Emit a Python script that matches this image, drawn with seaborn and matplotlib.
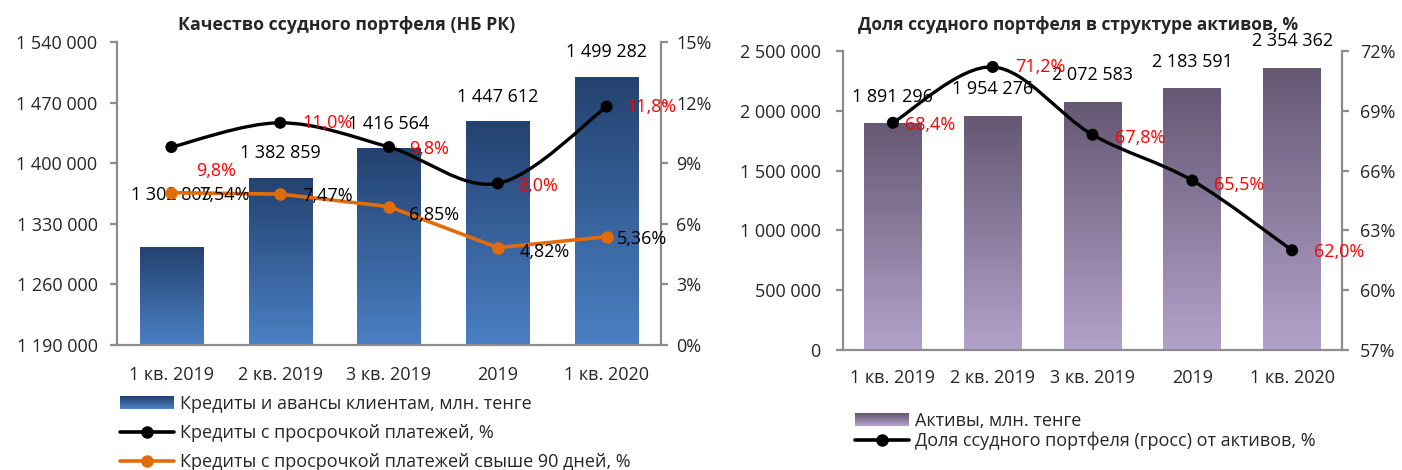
import numpy as np
import pandas as pd
import matplotlib
matplotlib.use('Agg')
import matplotlib.pyplot as plt
import seaborn as sns
from matplotlib.path import Path
from matplotlib.patches import PathPatch, Rectangle
from matplotlib.legend_handler import HandlerBase
from matplotlib.lines import Line2D
from matplotlib.colors import LinearSegmentedColormap

# ---------------- data ----------------
categories = ['1 кв. 2019', '2 кв. 2019', '3 кв. 2019', '2019', '1 кв. 2020']
loans = [1302805, 1382859, 1416564, 1447612, 1499282]
overdue_pct = [9.8, 11.0, 9.8, 8.0, 11.8]
overdue90_pct = [7.54, 7.47, 6.85, 4.82, 5.36]
assets = [1891296, 1954276, 2072583, 2183591, 2354362]
loan_share_pct = [68.4, 71.2, 67.8, 65.5, 62.0]

left_ticks = [1190000, 1260000, 1330000, 1400000, 1470000, 1540000]
left_pct_ticks = [0, 3, 6, 9, 12, 15]
right_ticks = [0, 500000, 1000000, 1500000, 2000000, 2500000]
right_pct_ticks = [57, 60, 63, 66, 69, 72]

title_left = 'Качество ссудного портфеля (НБ РК)'
title_right = 'Доля ссудного портфеля в структуре активов, %'
leg_left = ['Кредиты и авансы клиентам, млн. тенге',
            'Кредиты с просрочкой платежей, %',
            'Кредиты с просрочкой платежей свыше 90 дней, %']
leg_right = ['Активы, млн. тенге',
             'Доля ссудного портфеля (гросс) от активов, %']

# ---------------- style ----------------
sns.set_style('white')
plt.rcParams['font.family'] = ['Open Sans', 'DejaVu Sans']
FS = 13
SPINE = '#8c8c8c'
BLUE_TOP, BLUE_BOT = '#244270', '#4a80c4'
PURP_TOP, PURP_BOT = '#655873', '#b3a2cb'
ORANGE = '#e36c0a'
RED = '#ff0000'

def fmt_num(v):
    return f'{v:,}'.replace(',', ' ')

def fmt_pct(v, d):
    return f'{v:.{d}f}'.replace('.', ',') + '%'

def smooth_path(xs, ys, t=1/6):
    xs = np.asarray(xs, float); ys = np.asarray(ys, float)
    n = len(xs)
    verts = [(xs[0], ys[0])]
    codes = [Path.MOVETO]
    for i in range(n - 1):
        p0 = np.array([xs[max(i - 1, 0)], ys[max(i - 1, 0)]])
        p1 = np.array([xs[i], ys[i]])
        p2 = np.array([xs[i + 1], ys[i + 1]])
        p3 = np.array([xs[min(i + 2, n - 1)], ys[min(i + 2, n - 1)]])
        c1 = p1 + (p2 - p0) * t
        c2 = p2 - (p3 - p1) * t
        verts += [tuple(c1), tuple(c2), tuple(p2)]
        codes += [Path.CURVE4] * 3
    return Path(verts, codes)

def gradient_bars(ax, top, bottom):
    cmap = LinearSegmentedColormap.from_list('g', [bottom, top])
    grad = np.linspace(0, 1, 256).reshape(-1, 1)
    xl, yl = ax.get_xlim(), ax.get_ylim()
    for p in list(ax.patches):
        x0, w = p.get_x(), p.get_width()
        y0 = max(p.get_y(), yl[0])
        y1 = p.get_y() + p.get_height()
        ax.imshow(grad, cmap=cmap, origin='lower', extent=(x0, x0 + w, y0, y1),
                  aspect='auto', zorder=2, interpolation='bilinear')
        p.set_visible(False)
    ax.set_xlim(xl); ax.set_ylim(yl)

class GradientHandler(HandlerBase):
    def __init__(self, top, bottom, n=24):
        super().__init__()
        self.top, self.bottom, self.n = top, bottom, n
    def create_artists(self, legend, orig_handle, xdescent, ydescent, width, height, fontsize, trans):
        cmap = LinearSegmentedColormap.from_list('g', [self.bottom, self.top])
        arts = []
        h = height * 1.0
        y0 = -ydescent + (height - h) / 2
        for i in range(self.n):
            arts.append(Rectangle((-xdescent, y0 + h * i / self.n), width, h / self.n * 1.05,
                                  facecolor=cmap(i / (self.n - 1)), edgecolor='none', transform=trans))
        return arts

def style_axes(ax, ax2, ypad_l, ypad_r, xpad):
    for s in ['top', 'right']:
        ax.spines[s].set_visible(False)
    for s in ['top', 'left', 'bottom']:
        ax2.spines[s].set_visible(False)
    for sp in [ax.spines['left'], ax.spines['bottom'], ax2.spines['right']]:
        sp.set_color(SPINE); sp.set_linewidth(1.6)
    ax.tick_params(axis='y', length=5, width=1.6, color=SPINE, pad=ypad_l, labelsize=FS, left=True)
    ax.tick_params(axis='x', length=0, pad=xpad, labelsize=FS, bottom=False)
    ax2.tick_params(axis='y', length=5, width=1.6, color=SPINE, pad=ypad_r, labelsize=FS, right=True)
    ax.set_xlabel(''); ax.set_ylabel(''); ax2.set_ylabel('')
    ax.grid(False); ax2.grid(False)

fig = plt.figure(figsize=(14.02, 4.70), dpi=100)
W, H = 1402, 470

def axes_px(l, r, t, b):
    return fig.add_axes([l / W, (H - b) / H, (r - l) / W, (b - t) / H])

x = np.arange(len(categories))

# ================= LEFT CHART =================
ax = axes_px(117, 661, 42, 345)
df_l = pd.DataFrame({'cat': categories, 'loans': loans})
sns.barplot(data=df_l, x='cat', y='loans', ax=ax, color=BLUE_BOT, width=0.58, saturation=1)
ax.set_xlim(-0.5, len(categories) - 0.5)
ax.set_ylim(left_ticks[0], left_ticks[-1])
ax.set_yticks(left_ticks)
ax.set_yticklabels([fmt_num(v) for v in left_ticks])
gradient_bars(ax, BLUE_TOP, BLUE_BOT)

bar_off_l = [52, 25, 25, 25, 25]
for i, v in enumerate(loans):
    ax.annotate(fmt_num(v), xy=(i, v), xytext=(0, bar_off_l[i]), textcoords='offset pixels',
                ha='center', va='center', fontsize=FS, color='black', zorder=5)

ax2 = ax.twinx()
ax2.set_ylim(left_pct_ticks[0], left_pct_ticks[-1])
ax2.set_yticks(left_pct_ticks)
ax2.set_yticklabels([f'{v}%' for v in left_pct_ticks])
ax2.add_patch(PathPatch(smooth_path(x, overdue_pct), facecolor='none', edgecolor='black',
                        lw=2.4, zorder=3, capstyle='round'))
sns.scatterplot(x=x, y=overdue_pct, ax=ax2, color='black', s=75, edgecolor='none', zorder=4, legend=False)
sns.lineplot(x=x, y=overdue90_pct, ax=ax2, color=ORANGE, lw=2.6, marker='o', markersize=9,
             markeredgewidth=0, zorder=4, legend=False)
ax2.set_xlim(-0.5, len(categories) - 0.5)

red_off_l = [(25, -24), (22, 0), (20, -2), (20, -3), (20, 0)]
for i, v in enumerate(overdue_pct):
    ax2.annotate(fmt_pct(v, 1), xy=(i, v), xytext=red_off_l[i], textcoords='offset pixels',
                 ha='left', va='center', fontsize=FS, color=RED, zorder=6)
org_off_l = [(28, -2), (22, -2), (20, -8), (22, -4), (10, -2)]
for i, v in enumerate(overdue90_pct):
    ax2.annotate(fmt_pct(v, 2), xy=(i, v), xytext=org_off_l[i], textcoords='offset pixels',
                 ha='left', va='center', fontsize=FS, color='black', zorder=6)

style_axes(ax, ax2, ypad_l=9, ypad_r=6, xpad=15)
ax.set_xticks(x); ax.set_xticklabels(categories)

fig.text(347 / W, (H - 25) / H, title_left, ha='center', va='center', fontsize=12.8, fontweight='bold')

h_bar = Rectangle((0, 0), 1, 1)
h_l1 = Line2D([], [], color='black', lw=2.6, marker='o', markersize=9, markeredgewidth=0)
h_l2 = Line2D([], [], color=ORANGE, lw=2.6, marker='o', markersize=9, markeredgewidth=0)
fig.legend([h_bar, h_l1, h_l2], leg_left, loc='upper left',
           bbox_to_anchor=(120 / W, (H - 395) / H), frameon=False, fontsize=FS,
           handlelength=3.0, handleheight=0.7, handletextpad=0.35, labelspacing=0.62,
           borderpad=0, borderaxespad=0,
           handler_map={h_bar: GradientHandler(BLUE_TOP, BLUE_BOT)})

# ================= RIGHT CHART =================
bx = axes_px(843, 1342, 51, 350)
df_r = pd.DataFrame({'cat': categories, 'assets': assets})
sns.barplot(data=df_r, x='cat', y='assets', ax=bx, color=PURP_BOT, width=0.58, saturation=1)
bx.set_xlim(-0.5, len(categories) - 0.5)
bx.set_ylim(right_ticks[0], right_ticks[-1])
bx.set_yticks(right_ticks)
bx.set_yticklabels([fmt_num(v) for v in right_ticks])
gradient_bars(bx, PURP_TOP, PURP_BOT)

for i, v in enumerate(assets):
    bx.annotate(fmt_num(v), xy=(i, v), xytext=(0, 27), textcoords='offset pixels',
                ha='center', va='center', fontsize=FS, color='black', zorder=5)

bx2 = bx.twinx()
bx2.set_ylim(right_pct_ticks[0], right_pct_ticks[-1])
bx2.set_yticks(right_pct_ticks)
bx2.set_yticklabels([f'{v}%' for v in right_pct_ticks])
bx2.add_patch(PathPatch(smooth_path(x, loan_share_pct), facecolor='none', edgecolor='black',
                        lw=2.4, zorder=3, capstyle='round'))
sns.scatterplot(x=x, y=loan_share_pct, ax=bx2, color='black', s=75, edgecolor='none', zorder=4, legend=False)
bx2.set_xlim(-0.5, len(categories) - 0.5)

red_off_r = [(12, -2), (22, 0), (22, -3), (22, -4), (22, -2)]
for i, v in enumerate(loan_share_pct):
    bx2.annotate(fmt_pct(v, 1), xy=(i, v), xytext=red_off_r[i], textcoords='offset pixels',
                 ha='left', va='center', fontsize=FS, color=RED, zorder=6)

style_axes(bx, bx2, ypad_l=11, ypad_r=8, xpad=14)
bx.set_xticks(x); bx.set_xticklabels(categories)

fig.text(1078 / W, (H - 25) / H, title_right, ha='center', va='center', fontsize=12.5, fontweight='bold')

h_bar2 = Rectangle((0, 0), 1, 1)
h_l3 = Line2D([], [], color='black', lw=2.6, marker='o', markersize=9, markeredgewidth=0)
fig.legend([h_bar2, h_l3], leg_right, loc='upper left',
           bbox_to_anchor=(855 / W, (H - 412) / H), frameon=False, fontsize=FS,
           handlelength=3.0, handleheight=0.7, handletextpad=0.35, labelspacing=0.1,
           borderpad=0, borderaxespad=0,
           handler_map={h_bar2: GradientHandler(PURP_TOP, PURP_BOT)})

fig.savefig('out.png', dpi=100, facecolor='white')
